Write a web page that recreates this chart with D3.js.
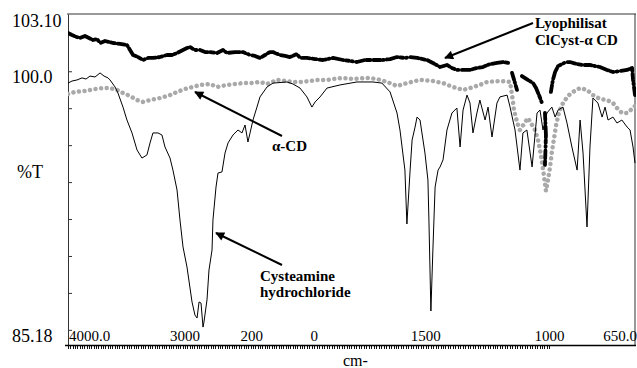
<!DOCTYPE html>
<html>
<head>
<meta charset="utf-8">
<script src="https://cdn.jsdelivr.net/npm/d3@7"></script>
<style>
  html, body { margin: 0; padding: 0; background: #fff; }
  svg { display: block; font-family: "Liberation Serif", "Times New Roman", serif; }
</style>
</head>
<body>
<div id="chart"></div>
<script>
// wavenumber (cm-1), transmittance (%T)
const cysteamine = [
  [4000, 99.36], [3966, 99.47], [3923, 99.53], [3880, 99.64], [3846, 99.58], [3812, 99.74],
  [3769, 99.69], [3726, 99.91], [3692, 99.74], [3658, 99.64], [3641, 99.53], [3598, 99.15],
  [3573, 98.82], [3530, 98.06], [3496, 97.36], [3453, 96.66], [3410, 95.74], [3368, 95.30],
  [3325, 95.47], [3299, 96.12], [3274, 96.66], [3231, 96.66], [3197, 96.55], [3171, 95.90],
  [3128, 95.30], [3103, 94.65], [3068, 93.57], [3043, 91.95], [3017, 90.49], [2983, 89.40],
  [2940, 87.51], [2915, 86.80], [2897, 86.64], [2880, 87.51], [2863, 87.45], [2846, 86.15],
  [2838, 86.42], [2812, 87.62], [2795, 89.24], [2769, 90.32], [2761, 91.95], [2735, 93.73],
  [2718, 94.49], [2684, 94.55], [2658, 95.57], [2632, 96.12], [2590, 96.55], [2547, 96.82],
  [2513, 96.66], [2487, 97.09], [2462, 96.17], [2444, 96.66], [2419, 97.36], [2385, 98.06],
  [2359, 98.61], [2299, 99.15], [2248, 99.36], [2128, 99.42], [2077, 99.31], [2017, 99.09],
  [1980, 98.61], [1960, 98.06], [1947, 98.34], [1927, 98.61], [1899, 99.09], [1846, 99.26],
  [1778, 99.42], [1713, 99.42], [1677, 99.36], [1644, 98.88], [1616, 97.74], [1604, 96.82],
  [1584, 94.65], [1576, 91.73], [1563, 94.65], [1555, 96.28], [1543, 96.98], [1535, 97.52],
  [1523, 97.36], [1503, 95.57], [1491, 94.11], [1487, 91.95], [1479, 87.02], [1471, 90.32],
  [1462, 93.73], [1450, 94.65], [1442, 94.82], [1430, 95.20], [1414, 96.82], [1394, 97.74],
  [1374, 98.01], [1361, 95.90], [1349, 97.90], [1333, 98.71], [1321, 98.28], [1309, 96.66],
  [1293, 97.74], [1281, 98.44], [1260, 97.36], [1248, 98.06], [1232, 96.44], [1212, 98.28],
  [1200, 98.61], [1171, 98.71], [1159, 98.06], [1139, 96.82], [1119, 94.65], [1107, 96.66],
  [1091, 96.82], [1070, 94.82], [1050, 97.74], [1038, 97.90], [1026, 96.82], [1010, 97.74],
  [990, 98.06], [977, 97.52], [965, 97.90], [945, 98.06], [929, 97.20], [909, 95.90],
  [888, 94.65], [876, 97.36], [864, 95.57], [848, 91.57], [836, 95.90], [824, 98.55],
  [804, 98.28], [787, 97.52], [775, 98.06], [763, 97.36], [743, 97.52], [727, 97.20],
  [707, 97.36], [686, 96.98], [674, 96.82], [662, 95.90], [654, 95.03]
];

const alphaCD = [
  [4000, 98.77], [3940, 98.88], [3855, 98.93], [3769, 99.04], [3701, 99.09], [3641, 99.09],
  [3581, 98.99], [3530, 98.82], [3470, 98.66], [3410, 98.44], [3359, 98.34], [3299, 98.44],
  [3214, 98.55], [3128, 98.71], [3068, 98.88], [3000, 99.04], [2932, 99.15], [2872, 99.26],
  [2786, 99.31], [2726, 99.15], [2641, 99.26], [2573, 99.31], [2504, 99.36], [2444, 99.36],
  [2359, 99.42], [2299, 99.31], [2214, 99.53], [2128, 99.47], [2077, 99.42], [2017, 99.42],
  [1968, 99.47], [1939, 99.53], [1899, 99.53], [1875, 99.58], [1834, 99.64], [1794, 99.58],
  [1737, 99.64], [1697, 99.58], [1656, 99.42], [1616, 99.20], [1576, 99.36], [1523, 99.53],
  [1471, 99.47], [1430, 99.36], [1390, 99.15], [1349, 98.99], [1321, 99.09], [1281, 99.26],
  [1252, 99.42], [1200, 99.47], [1159, 99.42], [1151, 98.71], [1143, 97.90], [1131, 97.25],
  [1119, 96.82], [1103, 97.14], [1087, 97.47], [1070, 97.09], [1058, 96.82], [1046, 96.28],
  [1038, 95.74], [1030, 95.09], [1022, 94.33], [1014, 93.52], [1006, 94.11], [998, 94.76],
  [990, 95.63], [981, 96.39], [973, 97.09], [961, 97.79], [945, 98.28], [925, 98.66],
  [905, 98.88], [876, 99.09], [848, 98.99], [824, 98.71], [796, 98.50], [767, 98.44],
  [743, 98.28], [727, 98.01], [707, 97.74], [686, 97.74], [666, 97.96], [650, 98.17]
];

// null = gap in the recorded trace
const lyophilisat = [
  [4000, 102.07], [3966, 101.96], [3923, 101.85], [3897, 101.80], [3855, 101.91], [3786, 101.69],
  [3752, 101.75], [3726, 101.53], [3684, 101.64], [3615, 101.53], [3556, 101.48], [3496, 101.42],
  [3470, 101.15], [3444, 100.88], [3402, 100.77], [3359, 100.61], [3316, 100.72], [3274, 100.72],
  [3214, 100.77], [3154, 100.88], [3111, 100.88], [3068, 100.99], [3017, 101.15], [2983, 101.26],
  [2957, 101.31], [2915, 101.15], [2872, 101.15], [2829, 101.04], [2786, 101.04], [2726, 100.99],
  [2675, 101.15], [2641, 100.99], [2573, 101.04], [2504, 101.04], [2444, 100.88], [2402, 100.83],
  [2359, 100.72], [2316, 100.88], [2274, 101.04], [2248, 101.04], [2188, 100.88], [2145, 100.83],
  [2103, 100.77], [2043, 100.93], [2017, 100.72], [1980, 100.72], [1947, 100.66], [1915, 100.61],
  [1875, 100.72], [1834, 100.61], [1806, 100.56], [1778, 100.50], [1745, 100.61], [1713, 100.61],
  [1673, 100.61], [1644, 100.66], [1616, 100.77], [1584, 100.72], [1563, 100.77], [1535, 100.72],
  [1495, 100.61], [1471, 100.45], [1442, 100.23], [1414, 100.34], [1394, 100.18], [1374, 100.07],
  [1349, 100.07], [1321, 100.07], [1293, 100.18], [1269, 100.23], [1240, 100.39], [1212, 100.45],
  [1188, 100.50], [1167, 100.45],
  null,
  [1151, 99.91], [1131, 98.99],
  null,
  [1111, 99.74], [1087, 99.53], [1066, 99.36], [1054, 99.09], [1042, 98.71], [1030, 98.28],
  null,
  [1018, 97.74], [1014, 96.55], [1018, 94.92],
  null,
  [994, 98.88], [986, 99.53], [977, 99.96], [965, 100.28], [949, 100.39], [933, 100.50],
  [917, 100.50], [888, 100.39], [864, 100.34], [836, 100.34], [796, 100.23], [767, 100.07],
  [743, 99.96], [715, 100.01], [686, 100.07], [666, 100.18], [662, 99.53], [654, 98.71]
];

const xBreaks = [4000, 2000, 650];
const xTickValues = [4000, 3000, 2430, 1950, 1500, 1000, 650];
const xTickLabels = ["4000.0", "3000", "200", "0", "1500", "1000", "650.0"];
const yDomain = [85.18, 103.10];
const yTickValues = [103.10, 100.0, 85.18];
const yTickLabels = ["103.10", "100.0", "85.18"];
const yMinorTicks = [86, 88, 90, 92, 94, 96, 98, 100];

const width = 637;
const height = 368;
const margin = { top: 14, right: 1, bottom: 23, left: 68 };

const svg = d3.select("#chart")
  .append("svg")
  .attr("width", width)
  .attr("height", height)
  .attr("viewBox", [0, 0, width, height]);

// Scales (x axis is expanded below 2000 cm-1)
const x = d3.scaleLinear()
  .domain(xBreaks)
  .range([margin.left, 302, width - margin.right]);

const y = d3.scaleLinear()
  .domain(yDomain)
  .range([height - margin.bottom, margin.top]);

const x0 = margin.left, x1 = width - margin.right;
const y0 = height - margin.bottom, y1 = margin.top;

svg.append("defs").append("clipPath")
  .attr("id", "plot")
  .append("rect")
  .attr("x", x0).attr("y", y1)
  .attr("width", x1 - x0).attr("height", y0 - y1);

svg.append("defs").append("marker")
  .attr("id", "head")
  .attr("viewBox", "0 0 10 10")
  .attr("refX", 9).attr("refY", 5)
  .attr("markerWidth", 11).attr("markerHeight", 9)
  .attr("markerUnits", "userSpaceOnUse")
  .attr("orient", "auto")
  .append("path")
  .attr("d", "M0,0L10,5L0,10z")
  .attr("fill", "#000");

// Frame
svg.append("line")
  .attr("x1", x0 - 1).attr("x2", x1).attr("y1", y1).attr("y2", y1)
  .attr("stroke", "#333").attr("stroke-width", 1);
svg.append("line")
  .attr("x1", x1 - 1).attr("x2", x1 - 1).attr("y1", y1).attr("y2", y0)
  .attr("stroke", "#333").attr("stroke-width", 1);

// Y axis: inward minor ticks
svg.append("g")
  .attr("transform", `translate(${x0},0)`)
  .call(d3.axisRight(y).tickValues(yMinorTicks).tickSize(4).tickSizeOuter(0).tickFormat(""))
  .call(g => g.selectAll("line, path").attr("stroke", "#333"));

const yLabelDy = [7, 6, -9];
svg.append("g")
  .attr("font-size", 18)
  .selectAll("text")
  .data(yTickValues)
  .join("text")
  .attr("x", 12)
  .attr("y", d => y(d))
  .attr("dy", (d, i) => yLabelDy[i] + 6)
  .text((d, i) => yTickLabels[i]);

svg.append("text")
  .attr("x", 17).attr("y", 178)
  .attr("font-size", 18)
  .text("%T");

// X axis: dense minor ticks 4000-1000, hanging below the base line
const minorX = d3.range(4000, 2000, -20).concat(d3.range(2000, 999, -10));
svg.append("g")
  .attr("stroke", "#111")
  .attr("stroke-width", 1)
  .selectAll("line")
  .data(minorX)
  .join("line")
  .attr("x1", d => Math.round(x(d)) + 0.5)
  .attr("x2", d => Math.round(x(d)) + 0.5)
  .attr("y1", y0)
  .attr("y2", y0 + 4);

svg.append("line")
  .attr("x1", x0 - 3).attr("x2", x1).attr("y1", y0 + 0.5).attr("y2", y0 + 0.5)
  .attr("stroke", "#000").attr("stroke-width", 1.3);

const xAnchor = ["start", "middle", "middle", "middle", "middle", "middle", "end"];
svg.append("g")
  .attr("font-size", 15)
  .selectAll("text")
  .data(xTickValues)
  .join("text")
  .attr("x", (d, i) => x(d) + (i === 0 ? 1 : i === 6 ? 1 : 0))
  .attr("y", y0 - 4)
  .attr("text-anchor", (d, i) => xAnchor[i])
  .text((d, i) => xTickLabels[i]);

svg.append("text")
  .attr("x", 343).attr("y", 366)
  .attr("font-size", 16)
  .text("cm-");

// Spectra
const line = d3.line()
  .defined(d => d !== null)
  .x(d => x(d[0]))
  .y(d => y(d[1]));

const curves = svg.append("g").attr("clip-path", "url(#plot)");

curves.append("path")
  .attr("d", line(alphaCD))
  .attr("fill", "none")
  .attr("stroke", "#a9a9a9")
  .attr("stroke-width", 4.5)
  .attr("stroke-linecap", "round")
  .attr("stroke-dasharray", "0.01 5.6");

curves.append("path")
  .attr("d", line(lyophilisat))
  .attr("fill", "none")
  .attr("stroke", "#000")
  .attr("stroke-width", 3.8)
  .attr("stroke-linejoin", "round")
  .attr("stroke-linecap", "round")
  .attr("stroke-dasharray", "7 2.5 1 3 11 2.5 3 3 1 3.5 8 2.5 4 3");

curves.append("path")
  .attr("d", line(cysteamine))
  .attr("fill", "none")
  .attr("stroke", "#000")
  .attr("stroke-width", 1)
  .attr("stroke-linejoin", "round");

// Annotations
const arrows = [
  [533, 23, 445, 58],
  [282, 136, 195, 92],
  [282, 265, 216, 233]
];
svg.append("g")
  .selectAll("line")
  .data(arrows)
  .join("line")
  .attr("x1", d => d[0]).attr("y1", d => d[1])
  .attr("x2", d => d[2]).attr("y2", d => d[3])
  .attr("stroke", "#000")
  .attr("stroke-width", 2)
  .attr("marker-end", "url(#head)");

const notes = svg.append("g")
  .attr("font-size", 15)
  .attr("font-weight", "bold");
notes.append("text").attr("x", 535).attr("y", 28).text("Lyophilisat");
notes.append("text").attr("x", 535).attr("y", 45).text("ClCyst-\u03b1 CD");
notes.append("text").attr("x", 272).attr("y", 151).text("\u03b1-CD");
notes.append("text").attr("x", 260).attr("y", 281).text("Cysteamine");
notes.append("text").attr("x", 260).attr("y", 297).text("hydrochloride");
</script>
</body>
</html>
